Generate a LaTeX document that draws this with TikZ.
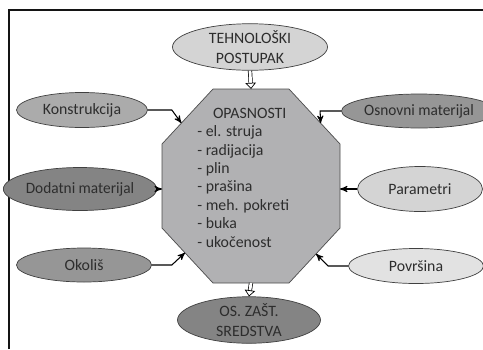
\documentclass[tikz,border=0pt]{standalone}
\usepackage{fontspec}
\setmainfont{Carlito}
\newfontfamily\uskifont[FakeStretch=0.97]{Carlito}
\usetikzlibrary{shapes.geometric, arrows, arrows.meta, calc, positioning}
\definecolor{okvir}{RGB}{20,20,20}
\definecolor{tekst}{RGB}{45,45,45}
\definecolor{opas}{RGB}{177,177,179}
\definecolor{sv1}{RGB}{212,212,212}
\definecolor{sv2}{RGB}{226,226,226}
\definecolor{sr1}{RGB}{171,171,171}
\definecolor{sr2}{RGB}{150,150,150}
\definecolor{tm1}{RGB}{132,132,132}
\tikzset{
>=stealth', % filled arrow heads
faktor/.style={ellipse, draw=black!75, thin, inner sep=0pt, text=tekst, align=center}, % every factor ellipse
usko/.style={font=\uskifont\fontsize{9}{11.3}\selectfont}, % long labels, set narrower
veza/.style={->, semithick, black}, % connectors into the octagon
tok/.style={double, double distance=1.6pt, thin, -{Triangle[open, length=3.5pt, width=6pt]}}, % the hollow arrows
}

\begin{document}
\begin{tikzpicture}[x=0.02cm, y=-0.02cm, font=\fontsize{9}{11.3}\selectfont]
  \useasboundingbox (0,0) rectangle (483,349);
  \draw[okvir, line width=1.1pt] (9,349) -- (9,10) -- (483,10);

  % the octagon, corners from top left clockwise
  \coordinate (hzc) at (251,186);
  \draw[black!70, fill=opas]
    ($(hzc)+(-38,-97)$) coordinate (o1) -- ($(hzc)+(38,-97)$) coordinate (o2)
    -- ($(hzc)+(89,-42)$) coordinate (o3) -- ($(hzc)+(89,42)$) coordinate (o4)
    -- ($(hzc)+(38,97)$) coordinate (o5) -- ($(hzc)+(-38,97)$) coordinate (o6)
    -- ($(hzc)+(-89,42)$) coordinate (o7) -- ($(hzc)+(-89,-42)$) coordinate (o8) -- cycle;
  \coordinate (hzn) at ($(o1)!0.5!(o2)$);
  \coordinate (hzs) at ($(o5)!0.5!(o6)$);

  \node[anchor=west, inner sep=0pt, text=tekst, font=\fontsize{9}{10.5}\selectfont] (hz) at (197,179)
    {\begin{tabular}{@{}l@{}}
     \multicolumn{1}{@{}c@{}}{\hspace{0.26cm}OPASNOSTI}\\
     - el. struja\\ - radijacija\\ - plin\\ - prašina\\
     - meh. pokreti\\ - buka\\ - ukočenost
     \end{tabular}};

  \node[faktor, fill=sv1, minimum width=3.1cm, minimum height=0.88cm] (teh) at (250,47) {TEHNOLOŠKI\\POSTUPAK};
  \node[faktor, fill=sr1, minimum width=2.62cm, minimum height=0.7cm] (kon) at (82,110) {Konstrukcija};
  \node[faktor, usko, fill=sr2, minimum width=2.64cm, minimum height=0.68cm] (osn) at (419,111) {Osnovni materijal};
  \node[faktor, usko, fill=tm1, minimum width=2.62cm, minimum height=0.86cm] (dod) at (80,189) {Dodatni materijal};
  \node[faktor, fill=sv1, minimum width=2.5cm, minimum height=0.9cm] (par) at (420,189) {Parametri};
  \node[faktor, fill=sr2, minimum width=2.7cm, minimum height=0.68cm] (oko) at (84,265) {Okoliš};
  \node[faktor, fill=sv2, minimum width=2.7cm, minimum height=0.7cm] (pov) at (416,266) {Površina};
  \node[faktor, fill=tm1, minimum width=2.86cm, minimum height=0.88cm] (szs) at (249,320) {OS. ZAŠT.\\SREDSTVA};

  \draw[tok] (teh.south) -- (hzn);
  \draw[tok] (hzs) -- (szs.north);

  \draw[veza] (kon.east) -- ++(24,0) -- ($(o8)!0.38!(o1)$);
  \draw[veza] (osn.west) -- ++(-21,0) -- ($(o3)!0.38!(o2)$);
  \draw[veza] (dod.east) -- (dod.east -| o7);
  \draw[veza] (par.west) -- (par.west -| o4);
  \draw[veza] (oko.east) -- ++(20,0) -- ($(o7)!0.45!(o6)$);
  \draw[veza] (pov.west) -- ++(-20,0) -- ($(o4)!0.47!(o5)$);
\end{tikzpicture}
\end{document}
